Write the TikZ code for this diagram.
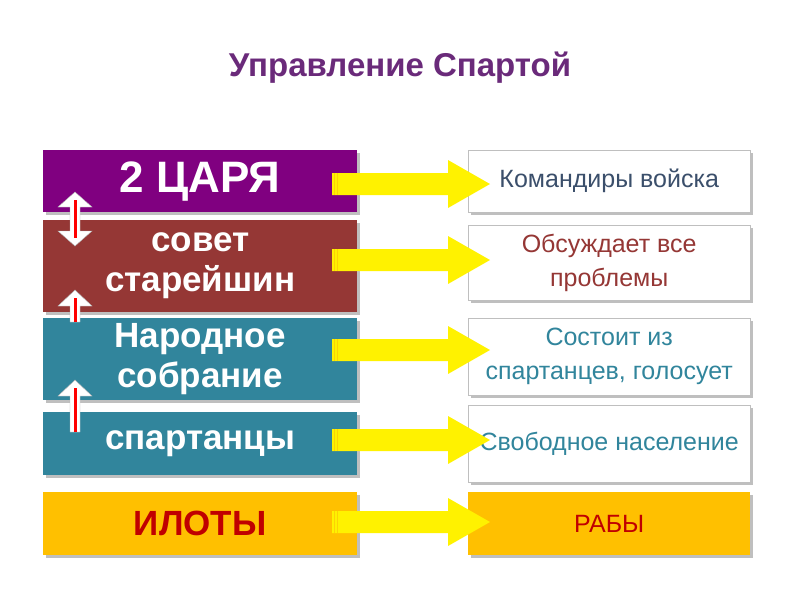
\documentclass[tikz,border=0pt]{standalone}
\usepackage{fontspec}
\setmainfont{Liberation Sans}
\begin{document}
\begin{tikzpicture}[x=1pt,y=-1pt,
  lbox/.style={draw=none,minimum width=314pt,anchor=north west,inner sep=0pt,text=white,font=\bfseries\fontsize{35}{40}\selectfont,align=center},
  rbox/.style={draw=black!25,fill=white,minimum width=282pt,anchor=north west,inner sep=0pt,font=\fontsize{25}{34}\selectfont,align=center},
  sh/.style={fill=black!30}]
\useasboundingbox (0,0) rectangle (800,600);
\definecolor{purp}{HTML}{800080}\definecolor{brn}{HTML}{953735}
\definecolor{teal1}{HTML}{31859C}\definecolor{org}{HTML}{FFC000}
\definecolor{dred}{HTML}{C00000}\definecolor{slate}{HTML}{3B4F6B}
\definecolor{ttl}{HTML}{6A2A7A}
\node (title) at (400,68) {\bfseries\fontsize{33}{38}\selectfont\color{ttl}Управление Спартой};
% shadows
\foreach \a/\b in {150/212,220/312,318/400,412/475,492/555}{\fill[black!25] (46,\a+3) rectangle (360,\b+3);}
\foreach \a/\b in {150/212,225/300,318/395,405/482,492/555}{\fill[black!25] (471,\a+3) rectangle (753,\b+3);}
\node[lbox,fill=purp,minimum height=62pt,font=\bfseries\fontsize{44}{48}\selectfont] (l1) at (43,150) {2 ЦАРЯ};
\node[lbox,fill=brn,minimum height=92pt] (l2) at (43,220) {совет\\старейшин};
\node[lbox,fill=teal1,minimum height=82pt] (l3) at (43,318) {Народное\\собрание};
\node[lbox,fill=teal1,minimum height=63pt] (l4) at (43,412) {спартанцы};
\node[lbox,fill=org,text=dred,minimum height=63pt] (l5) at (43,492) {ИЛОТЫ};
\node[rbox,text=slate,minimum height=62pt] (r1) at (468,150) {Командиры войска};
\node[rbox,text=brn,minimum height=75pt] (r2) at (468,225) {Обсуждает все\\проблемы};
\node[rbox,text=teal1,minimum height=77pt] (r3) at (468,318) {Состоит из\\спартанцев, голосует};
\node[rbox,text=teal1,minimum height=77pt] (r4) at (468,405) {Свободное население};
\node[rbox,draw=none,fill=org,text=dred,minimum height=63pt] (r5) at (468,492) {РАБЫ};
% yellow arrows
\foreach \y in {184,260,350,440,522}{
  \fill[yellow] (332,\y-11) -- (448,\y-11) -- (448,\y-24) -- (490,\y) -- (448,\y+24) -- (448,\y+11) -- (332,\y+11) -- cycle;
  \draw[yellow!70!orange,line width=0.6pt] (334,\y-11) -- (334,\y+11) (337,\y-11) -- (337,\y+11);
}
% vertical arrows
\fill[white,draw=black!30] (75,192) -- (92,207) -- (80,207) -- (80,231) -- (92,231) -- (75,246) -- (58,231) -- (70,231) -- (70,207) -- (58,207) -- cycle;
\draw[red,line width=3pt] (75,200) -- (75,238);
\foreach \t/\b in {290/322,380/432}{
  \fill[white,draw=black!30] (75,\t) -- (92,\t+16) -- (80,\t+16) -- (80,\b) -- (70,\b) -- (70,\t+16) -- (58,\t+16) -- cycle;
  \draw[red,line width=3pt] (75,\t+8) -- (75,\b);
}
\end{tikzpicture}
\end{document}
